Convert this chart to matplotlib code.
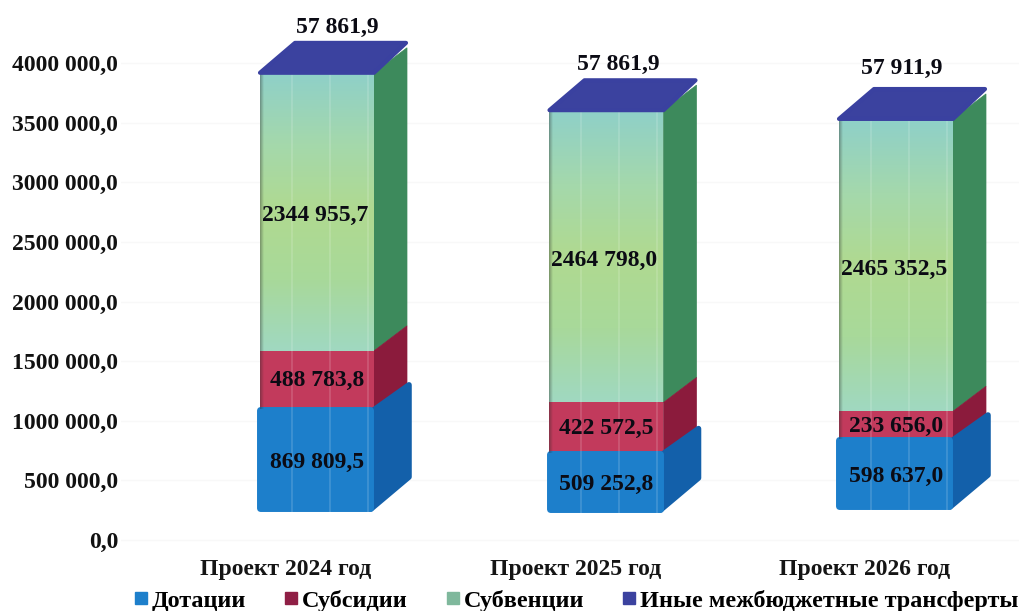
import numpy as np
import matplotlib
matplotlib.use("Agg")
import matplotlib.pyplot as plt
from matplotlib.colors import to_rgb
from matplotlib.patches import Polygon
from matplotlib.lines import Line2D

categories = ["Проект 2024 год", "Проект 2025 год", "Проект 2026 год"]
dotacii = [869809.5, 509252.8, 598637.0]
subsidii = [488783.8, 422572.5, 233656.0]
subvencii = [2344955.7, 2464798.0, 2465352.5]
inye = [57861.9, 57861.9, 57911.9]
series_names = ["Дотации", "Субсидии", "Субвенции", "Иные межбюджетные трансферты"]
axis_ticks = [0, 500000, 1000000, 1500000, 2000000, 2500000, 3000000, 3500000, 4000000]
axis_labels = ["0,0", "500 000,0", "1000 000,0", "1500 000,0", "2000 000,0",
               "2500 000,0", "3000 000,0", "3500 000,0", "4000 000,0"]


def fmt(v):
    whole, frac = f"{v:.1f}".split(".")
    n = int(whole)
    return f"{n // 1000} {n % 1000:03d},{frac}"


W, H = 1020, 611
plt.rcParams["font.family"] = ["Liberation Serif", "DejaVu Serif"]
plt.rcParams["font.weight"] = "bold"
fig = plt.figure(figsize=(W / 100, H / 100), dpi=100)

AX_BOTTOM = 552
ax = fig.add_axes([0, 1 - AX_BOTTOM / H, 1, AX_BOTTOM / H])
ax.patch.set_visible(False)
PX_Y = 500000 / 59.3      # value per pixel
PX_X = 1 / 289.5          # category per pixel
ax.set_ylim(-(AX_BOTTOM - 512) * PX_Y, 512 * PX_Y)
ax.set_xlim(-317 * PX_X, (W - 317) * PX_X)
for s in ax.spines.values():
    s.set_visible(False)
ax.set_yticks([])

x = np.arange(len(categories))
base_shift = np.array([0, -1, 2]) * PX_Y
w = 114 * PX_X
dx, dy = 33 * PX_X, 25 * PX_Y
bdx, bdy = 38 * PX_X, 27 * PX_Y
top_label_dx = np.array([20, 12, 6]) * PX_X
top_label_dy = np.array([13, 14, 19]) * PX_Y

blue, blue_s = "#1d7fcb", "#1360aa"
red, red_s = "#c23a5c", "#8b1b3c"
green, green_s = "#a6d8a2", "#3d8a5c"
purple, purple_dark = "#3b429f", "#3a41a0"

d = np.array(dotacii)
r = np.array(subsidii)
g = np.array(subvencii)
t = np.array(inye)
b0 = base_shift
b1 = b0 + d
b2 = b1 + r
b3 = b2 + g

ax2 = fig.add_axes([121 / W, 1 - AX_BOTTOM / H, (W - 121) / W, AX_BOTTOM / H])
ax2.patch.set_visible(False)
PX2 = 500000 / 59.6
ax2.set_ylim(-(AX_BOTTOM - 540) * PX2, 540 * PX2)
ax2.set_xlim(0, 1)
ax2.set_xticks([])
ax2.set_yticks(axis_ticks)
ax2.set_yticklabels(axis_labels, fontsize=17, fontweight="bold", color="#111111")
ax2.tick_params(axis="y", length=0, pad=2)
ax2.grid(axis="y", color="#f8f8f8", lw=1)
for s in ax2.spines.values():
    s.set_visible(False)
ax2.set_zorder(0)
ax.set_zorder(1)

# front faces
ax.bar(x, g, w, bottom=b2, color=green, zorder=3)
ax.bar(x, r, w, bottom=b1, color=red, zorder=3)
ax.bar(x - 1.5 * PX_X, d - 5 * PX_Y, w - 4 * PX_X, bottom=b0 + 4 * PX_Y, color=blue, edgecolor=blue,
       lw=5, joinstyle="round", zorder=4)


def side(xc, y0, y1, ddx, ddy, color, z=2, halfw=w / 2):
    xr = xc + halfw
    ax.add_patch(Polygon([(xr, y0), (xr + ddx, y0 + ddy), (xr + ddx, y1 + ddy), (xr, y1)],
                         closed=True, fc=color, ec=color, lw=0.5, zorder=z))


stops_g = np.array([to_rgb(c) for c in ["#8fd0c8", "#a4d8ac", "#b0da90", "#a8d99a", "#a0d8c0"]])
for i, xc in enumerate(x):
    side(xc, b2[i], b3[i], dx, dy, green_s)
    side(xc, b1[i], b2[i], dx, dy, red_s)
    xr = xc + w / 2 - 3 * PX_X
    ax.add_patch(Polygon([(xr, b0[i] + 3 * PX_Y), (xr + bdx, b0[i] + bdy + 8 * PX_Y),
                          (xr + bdx, b1[i] + bdy - 3 * PX_Y), (xr, b1[i] - 3 * PX_Y)],
                         closed=True, fc=blue_s, ec=blue_s, lw=4, joinstyle="round", zorder=3))
    # top face reaches up by the series' own value plus the depth
    xl = xc - w / 2
    xr = xc + w / 2
    ax.add_patch(Polygon([(xl, b3[i]), (xr, b3[i]), (xr + dx - 1 * PX_X, b3[i] + dy + t[i] - 2 * PX_Y),
                          (xl + dx + 2 * PX_X, b3[i] + dy + t[i] - 2 * PX_Y)],
                         closed=True, fc=purple, ec=purple_dark, lw=3, joinstyle="round", zorder=5))

    # gradient on green front
    n = 64
    pos = np.linspace(0, 1, n)
    grad = np.stack([np.interp(pos, np.linspace(0, 1, len(stops_g)), stops_g[:, c]) for c in range(3)], axis=1)
    ax.imshow(grad[:, None, :], extent=[xc - w / 2, xc + w / 2, b2[i], b3[i]], origin="upper",
              aspect="auto", zorder=3.2, interpolation="bilinear")
    # vertical highlight stripes on the front column
    col = np.zeros((1, 114, 4))
    for px in (32, 70, 108):
        col[0, px - 1:px + 1, :3] = 1
        col[0, px - 1:px + 1, 3] = 0.14
    ax.imshow(col, extent=[xc - w / 2, xc + w / 2, b0[i], b3[i]], aspect="auto", zorder=4.5,
              interpolation="bilinear")
    # dark left edge only on the upper two segments
    edge = np.zeros((1, 114, 4))
    edge[0, :4, :3] = 0.15
    edge[0, :4, 3] = np.array([0.35, 0.25, 0.15, 0.05])
    ax.imshow(edge, extent=[xc - w / 2, xc + w / 2, b1[i], b3[i]], aspect="auto", zorder=4.5,
              interpolation="bilinear")

    lab = dict(ha="center", va="center", fontsize=17, fontweight="bold", color="#0b0b14", zorder=8)
    ax.text(xc, (b0[i] + b1[i]) / 2 - 2 * PX_Y, fmt(d[i]), **lab)
    ax.text(xc, (b1[i] + b2[i]) / 2 - 1 * PX_Y, fmt(r[i]), **lab)
    ax.text(xc - 2 * PX_X, (b2[i] + b3[i]) / 2 - 4 * PX_Y, fmt(g[i]), **lab)
    ax.text(xc + top_label_dx[i], b3[i] + dy + t[i] + top_label_dy[i], fmt(t[i]), **lab)

ax.set_ylim(-(AX_BOTTOM - 512) * PX_Y, 512 * PX_Y)
ax.set_xlim(-317 * PX_X, (W - 317) * PX_X)
ax.set_xticks(x - 31 * PX_X)
ax.set_xticklabels(categories, fontsize=17, fontweight="bold", color="#151515")
ax.tick_params(axis="x", length=0, pad=5)

handles = [Line2D([], [], ls="", marker="s", ms=8, color=c) for c in (blue, "#8f1f45", "#7fb89c", purple)]
fig.legend(handles, series_names, ncol=4, loc="lower left", bbox_to_anchor=(130 / W, -1 / H),
           frameon=False, fontsize=17.5, columnspacing=1.4, handletextpad=0.0, handlelength=0.9,
           borderpad=0, borderaxespad=0)

fig.savefig("out.png", dpi=100)
